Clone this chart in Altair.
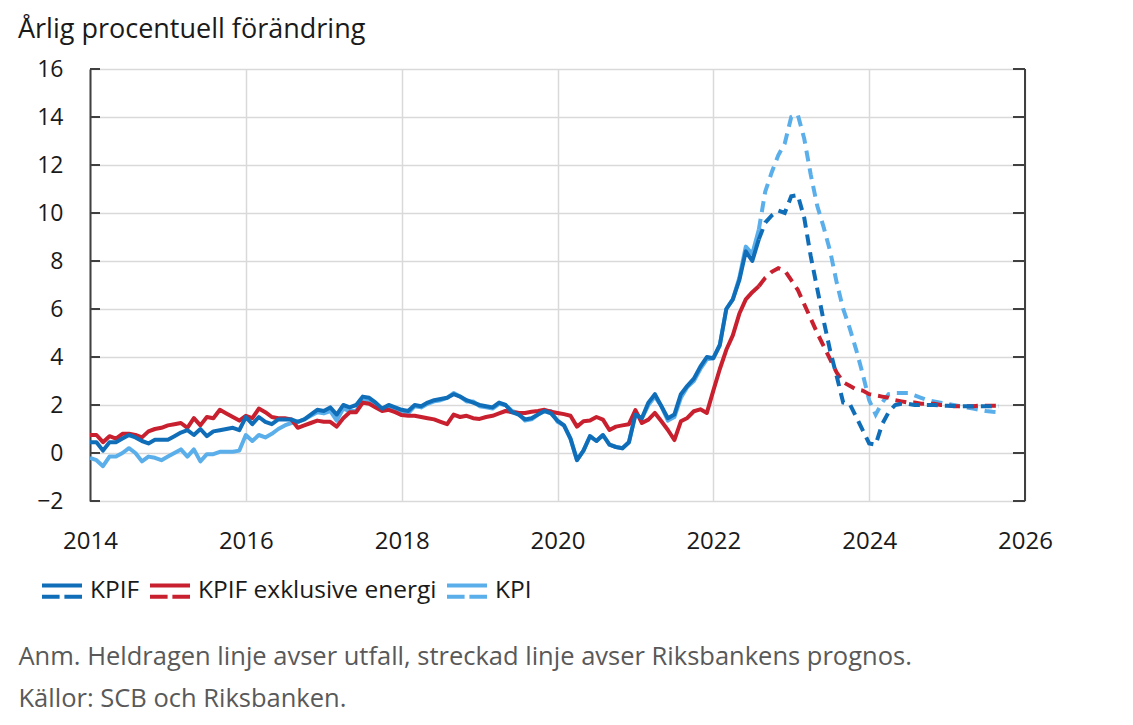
import altair as alt
import pandas as pd

# ---- data (annual % change), monthly, outcome Jan 2014 - Aug 2022 ----
kpif_utfall = [
    0.45, 0.45, 0.1, 0.45, 0.45, 0.6, 0.75, 0.65, 0.5, 0.4, 0.55, 0.55,
    0.55, 0.7, 0.85, 0.95, 0.75, 1.0, 0.7, 0.9, 0.95, 1.0, 1.05, 0.95,
    1.5, 1.2, 1.5, 1.3, 1.2, 1.4, 1.4, 1.4, 1.3, 1.4, 1.6, 1.8,
    1.75, 1.9, 1.6, 2.0, 1.9, 2.0, 2.35, 2.3, 2.1, 1.85, 2.0, 1.9,
    1.8, 1.75, 2.0, 1.95, 2.1, 2.2, 2.25, 2.3, 2.45, 2.35, 2.2, 2.1,
    2.0, 1.95, 1.9, 2.1, 2.0, 1.7, 1.6, 1.4, 1.45, 1.6, 1.75, 1.65,
    1.35, 1.15, 0.6, -0.3, 0.1, 0.7, 0.5, 0.75, 0.35, 0.25, 0.2, 0.45,
    1.6, 1.45, 2.1, 2.45, 1.95, 1.45, 1.6, 2.45, 2.8, 3.1, 3.6, 4.0,
    3.95, 4.5, 6.0, 6.4, 7.2, 8.4, 8.0, 8.9,
]
kpifxe_utfall = [
    0.75, 0.75, 0.45, 0.7, 0.6, 0.8, 0.8, 0.75, 0.65, 0.9, 1.0, 1.05,
    1.15, 1.2, 1.25, 1.05, 1.45, 1.15, 1.5, 1.45, 1.8, 1.65, 1.5, 1.35,
    1.55, 1.45, 1.85, 1.7, 1.5, 1.45, 1.45, 1.4, 1.05, 1.15, 1.25, 1.35,
    1.3, 1.3, 1.1, 1.45, 1.7, 1.7, 2.1, 2.05, 1.9, 1.75, 1.8, 1.7,
    1.58, 1.55, 1.55, 1.5, 1.45, 1.4, 1.3, 1.2, 1.6, 1.5, 1.55, 1.45,
    1.42, 1.5, 1.55, 1.65, 1.75, 1.7, 1.68, 1.67, 1.72, 1.75, 1.8, 1.72,
    1.67, 1.62, 1.55, 1.1, 1.32, 1.35, 1.5, 1.39, 0.96, 1.1, 1.15, 1.2,
    1.79, 1.25, 1.39, 1.67, 1.32, 0.96, 0.54, 1.32, 1.46, 1.74, 1.82, 1.67,
    2.6, 3.5, 4.3, 4.9, 5.8, 6.4, 6.7, 6.95,
]
kpi_utfall = [
    -0.2, -0.3, -0.55, -0.15, -0.15, 0.0, 0.2, 0.0, -0.35, -0.15, -0.2, -0.3,
    -0.15, 0.0, 0.15, -0.15, 0.15, -0.35, -0.05, -0.05, 0.05, 0.05, 0.05, 0.1,
    0.75, 0.5, 0.75, 0.65, 0.8, 1.0, 1.15, 1.25, 1.3, 1.4, 1.55, 1.7,
    1.65, 1.75, 1.35, 1.85, 1.75, 1.75, 2.2, 2.15, 2.05, 1.8, 1.9, 1.8,
    1.7, 1.65, 1.95, 1.9, 2.05, 2.15, 2.2, 2.3, 2.5, 2.35, 2.15, 2.15,
    1.95, 1.9, 1.85, 2.05, 2.0, 1.75, 1.65, 1.35, 1.4, 1.6, 1.75, 1.75,
    1.3, 1.15, 0.6, -0.3, 0.1, 0.7, 0.5, 0.75, 0.35, 0.25, 0.2, 0.45,
    1.6, 1.45, 2.0, 2.35, 1.95, 1.35, 1.5, 2.3, 2.75, 3.0, 3.5, 3.9,
    3.95, 4.5, 6.0, 6.4, 7.3, 8.6, 8.3, 9.3,
]

# ---- Riksbank forecast, monthly, Aug 2022 - Sep 2025 ----
kpif_prognos = [
    8.9, 9.6, 9.9, 10.1, 10.0, 10.7, 10.75, 9.8, 8.2, 6.85, 5.5, 4.25,
    3.2, 2.1, 2.05, 1.5, 0.95, 0.4, 0.35, 1.2, 1.7, 2.0,
    2.05, 2.05, 2.0, 2.0, 2.0, 2.0, 1.98, 1.97, 1.96, 1.95, 1.95, 1.95,
    1.95, 1.95, 1.95, 1.95,
]
kpifxe_prognos = [
    6.95, 7.3, 7.55, 7.7, 7.6, 7.2, 6.8, 6.2, 5.6, 5.0, 4.45, 3.9,
    3.35, 2.95, 2.8, 2.65, 2.6, 2.45, 2.4, 2.35, 2.3, 2.2,
    2.15, 2.1, 2.1, 2.05, 2.05, 2.05, 2.0, 2.0, 1.95, 1.95, 1.95, 1.95,
    1.97, 1.97, 1.97, 1.97,
]
kpi_prognos = [
    9.3, 10.9, 11.7, 12.4, 12.9, 14.0, 14.1, 13.1, 11.6, 10.3, 9.4, 8.4,
    7.1, 6.0, 5.2, 4.3, 3.3, 2.2, 1.6, 2.1, 2.45, 2.5,
    2.5, 2.5, 2.4, 2.3, 2.2, 2.15, 2.1, 2.05, 2.0, 1.95, 1.9, 1.85,
    1.8, 1.75, 1.72, 1.7,
]

serier = ["KPIF", "KPIF exklusive energi", "KPI"]
farger = ["#106eb9", "#c8202e", "#5aafeb"]
x_ticks = [2014, 2016, 2018, 2020, 2022, 2024, 2026]
y_ticks = [-2, 0, 2, 4, 6, 8, 10, 12, 14, 16]

START_YEAR = 2014
PROGNOS_START = 103  # index of Aug 2022


def frame(values, start, serie):
    return pd.DataFrame({
        "t": [START_YEAR + (start + i) / 12 for i in range(len(values))],
        "value": values,
        "serie": serie,
    })


FONT = "Open Sans"
W, H = 935, 432

xscale = alt.Scale(domain=[2014, 2026], nice=False, zero=False)
yscale = alt.Scale(domain=[-2, 16], nice=False, zero=False)

xaxis = alt.Axis(
    values=x_ticks, format="d", grid=True, gridColor="#d9d9d9", gridWidth=1.5,
    domain=False, ticks=False, labelFlush=False, labelPadding=28,
    labelFontSize=24, labelFont=FONT, labelColor="#1a1a1a",
    title=["Anm. Heldragen linje avser utfall, streckad linje avser Riksbankens prognos.",
           "Källor: SCB och Riksbanken."],
    titleX=-72, titleY=163, titleAlign="left", titleAnchor="start",
    titleBaseline="alphabetic", titleFontSize=25.5, titleFont=FONT,
    titleFontWeight="normal", titleColor="#595959", titleLineHeight=42,
)
yaxis = alt.Axis(
    values=y_ticks, grid=True, gridColor="#d9d9d9", gridWidth=1.5,
    domain=True, domainColor="#404040", domainWidth=2, ticks=False,
    labelPadding=27, labelFontSize=23, labelFont=FONT, labelColor="#1a1a1a",
    title=None,
)

X = alt.X("t:Q", scale=xscale, axis=xaxis)
Y = alt.Y("value:Q", scale=yscale, axis=yaxis)

legend = alt.Legend(
    title=None, orient="none", legendX=-50, legendY=500, direction="horizontal",
    symbolType="M-1,-0.28H1M-1,0.28H-0.12M0.12,0.28H1",
    symbolSize=1600, symbolStrokeWidth=4, symbolFillColor="transparent",
    symbolDash=[1, 0],
    labelFontSize=24.5, labelFont=FONT, labelColor="#1a1a1a", labelOffset=6,
    labelLimit=0, columnPadding=2,
)
cscale = alt.Scale(domain=serier, range=farger)

layers = []
utfall = {"KPI": kpi_utfall, "KPIF exklusive energi": kpifxe_utfall, "KPIF": kpif_utfall}
prognos = {"KPI": kpi_prognos, "KPIF exklusive energi": kpifxe_prognos, "KPIF": kpif_prognos}

for s in ["KPI", "KPIF exklusive energi", "KPIF"]:
    layers.append(
        alt.Chart(frame(utfall[s], 0, s)).mark_line(strokeWidth=4, strokeJoin="round")
        .encode(x=X, y=Y, color=alt.Color("serie:N", scale=cscale, legend=legend))
    )
for s in ["KPI", "KPIF exklusive energi", "KPIF"]:
    layers.append(
        alt.Chart(frame(prognos[s], PROGNOS_START, s))
        .mark_line(strokeWidth=4, strokeDash=[11, 7], strokeCap="butt")
        .encode(x=X, y=Y, color=alt.Color("serie:N", scale=cscale, legend=None))
    )

ticks_df = pd.DataFrame({"value": y_ticks})
left_ticks = alt.Chart(ticks_df).mark_rule(color="#404040", strokeWidth=2).encode(
    y=Y, x=alt.value(0), x2=alt.value(10))
right_ticks = alt.Chart(ticks_df).mark_rule(color="#404040", strokeWidth=2).encode(
    y=Y, x=alt.value(W - 12), x2=alt.value(W))
right_line = alt.Chart(ticks_df.head(1)).mark_rule(color="#404040", strokeWidth=2).encode(
    x=alt.value(W), y=alt.value(0), y2=alt.value(H))

chart = alt.layer(*layers, left_ticks, right_ticks, right_line).properties(
    width=W, height=H,
    padding={"left": 82, "top": 61, "right": 100, "bottom": 222},
    autosize=alt.AutoSizeParams(type="none"),
    title=alt.TitleParams(
        "Årlig procentuell förändring", anchor="start", frame="group",
        dx=-72, dy=27, offset=20, fontSize=27, font=FONT, fontWeight="normal",
        color="#1a1a1a", baseline="alphabetic",
    ),
).configure_view(stroke=None).configure(background="white")

chart.save("out.html", embed_options={"renderer": "svg", "actions": False})
